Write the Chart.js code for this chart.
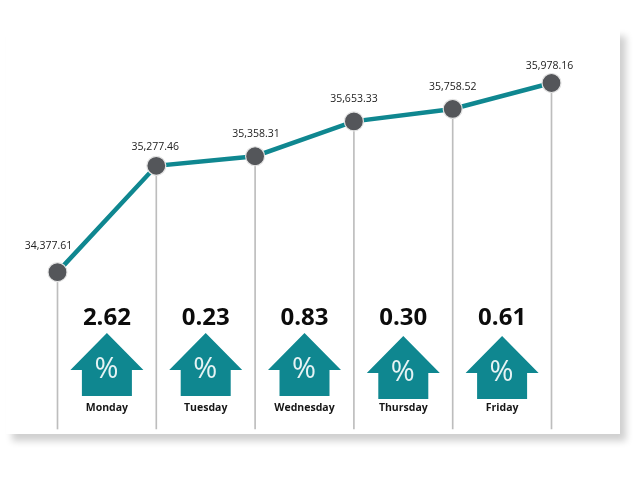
<!DOCTYPE html>
<html>
<head>
<meta charset="utf-8">
<script src="https://cdn.jsdelivr.net/npm/chart.js@4/dist/chart.umd.min.js"></script>
<style>
html, body { margin: 0; padding: 0; background: #fff; width: 640px; height: 480px; overflow: hidden; }
#paper { position: absolute; left: 6px; top: 29px; width: 614px; height: 405px; background: #fff; box-shadow: 6px 7px 7px #d0d0d0; }
#wrap { position: absolute; left: 0; top: 0; width: 640px; height: 480px; }
</style>
</head>
<body>
<div id="paper"></div>
<div id="wrap"><canvas id="chart" width="640" height="480"></canvas></div>
<script>
var days = ['Monday', 'Tuesday', 'Wednesday', 'Thursday', 'Friday'];
var closeLabels = ['', 'Monday', 'Tuesday', 'Wednesday', 'Thursday', 'Friday'];
var closes = [34377.61, 35277.46, 35358.31, 35653.33, 35758.52, 35978.16];
var changes = ['2.62', '0.23', '0.83', '0.30', '0.61'];
var axisFloor = 33050;

// label nudges, the source artwork is not quite regular
var labelDx = [-9, -1, 1, 0, 0, -2];
var labelDy = [-26, -19, -22, -22, -22, -17];
var arrowDrop = [0, 0, 0, 3, 3];

var TEAL = '#0f8790';

var overlay = {
    id: 'overlay',
    afterDatasetsDraw: function(chart) {
        var ctx = chart.ctx;
        var x = chart.scales.x;
        var pts = chart.getDatasetMeta(1).data;
        ctx.save();
        ctx.textAlign = 'center';
        ctx.textBaseline = 'middle';

        ctx.fillStyle = '#222222';
        ctx.font = '10.5px "Open Sans"';
        closes.forEach(function(v, i) {
            var txt = v.toLocaleString('en-US', { minimumFractionDigits: 2 });
            ctx.fillText(txt, pts[i].x + labelDx[i], pts[i].y + labelDy[i]);
        });

        days.forEach(function(day, i) {
            var cx = (x.getPixelForValue(i) + x.getPixelForValue(i + 1)) / 2;
            var top = 333 + arrowDrop[i];

            ctx.fillStyle = TEAL;
            ctx.beginPath();
            ctx.moveTo(cx, top);
            ctx.lineTo(cx + 36.5, top + 37);
            ctx.lineTo(cx + 25, top + 37);
            ctx.lineTo(cx + 25, top + 63);
            ctx.lineTo(cx - 25, top + 63);
            ctx.lineTo(cx - 25, top + 37);
            ctx.lineTo(cx - 36.5, top + 37);
            ctx.closePath();
            ctx.fill();

            ctx.fillStyle = '#e6f3f4';
            ctx.font = '400 29px "Open Sans"';
            ctx.fillText('%', cx - 0.5, top + 37);

            ctx.fillStyle = '#0c0c0c';
            ctx.font = 'bold 24px "Open Sans"';
            ctx.fillText(changes[i], cx, 318);

            ctx.fillStyle = '#161616';
            ctx.font = 'bold 10.5px "Open Sans"';
            ctx.fillText(day, cx, 408);
        });
        ctx.restore();
    }
};

new Chart(document.getElementById('chart'), {
    type: 'line',
    data: {
        labels: closeLabels,
        datasets: [
            {
                type: 'bar',
                data: closes,
                base: axisFloor,
                backgroundColor: '#bdbdbd',
                barThickness: 1,
                order: 2,
                clip: false
            },
            {
                type: 'line',
                data: closes,
                borderColor: TEAL,
                borderWidth: 4.5,
                tension: 0,
                pointRadius: 9.5,
                pointBackgroundColor: '#54565a',
                pointBorderColor: '#e4e4e4',
                pointBorderWidth: 1.2,
                order: 1,
                clip: false
            }
        ]
    },
    options: {
        responsive: false,
        animation: false,
        events: [],
        layout: { padding: { left: 57.5, right: 88.5, top: 83, bottom: 51 } },
        plugins: { legend: { display: false }, tooltip: { enabled: false } },
        scales: {
            x: { display: false, offset: false, grid: { display: false } },
            y: { display: false, min: axisFloor, max: 35978.16, grid: { display: false } }
        }
    },
    plugins: [overlay]
});
</script>
</body>
</html>
